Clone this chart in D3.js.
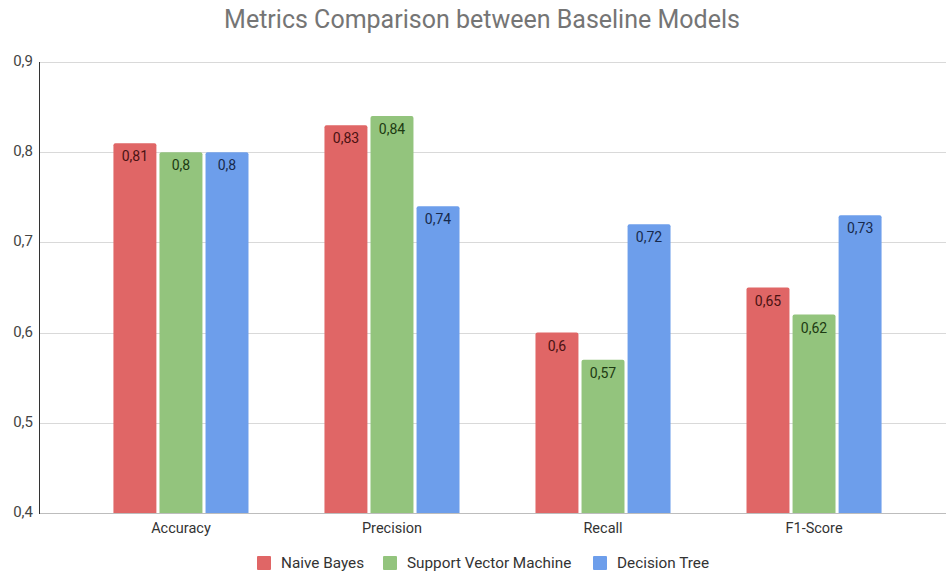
<!DOCTYPE html>
<html lang="en">
<head>
    <meta charset="UTF-8">
    <title>Metrics Comparison between Baseline Models</title>
    <script src="https://d3js.org/d3.v7.min.js"></script>
    <style>
        body { margin: 0; background: #fff; font-family: Roboto, Arial, sans-serif; }
        svg { display: block; }
    </style>
</head>
<body>
    <svg width="946" height="576"></svg>
    <script>
        // data
        const metrics = ["Accuracy", "Precision", "Recall", "F1-Score"];
        const models = ["Naive Bayes", "Support Vector Machine", "Decision Tree"];
        const naiveBayes = [0.81, 0.83, 0.60, 0.65];
        const svm = [0.80, 0.84, 0.57, 0.62];
        const decisionTree = [0.80, 0.74, 0.72, 0.73];
        const yTicks = [0.4, 0.5, 0.6, 0.7, 0.8, 0.9];

        const series = [naiveBayes, svm, decisionTree];
        const colors = ["#e06666", "#93c47d", "#6d9eeb"];
        const labelColors = ["#4a1212", "#1d3a12", "#172a4d"];

        const svg = d3.select("svg");
        const W = 946, H = 576;
        const fmt = v => String(+v.toFixed(2)).replace(".", ",");

        // scales
        const x = d3.scaleBand()
            .domain(metrics)
            .range([40, 955])
            .paddingInner(0.36)
            .paddingOuter(0.348);
        const xi = d3.scaleBand()
            .domain(models)
            .range([0, x.bandwidth()])
            .paddingInner(0.067);
        const y = d3.scaleLinear()
            .domain([0.4, 0.9])
            .range([513, 62]);

        // title
        svg.append("text")
            .attr("x", 482)
            .attr("y", 28)
            .attr("text-anchor", "middle")
            .attr("fill", "#757575")
            .style("font-size", "25px")
            .text("Metrics Comparison between Baseline Models");

        // gridlines
        svg.append("g")
            .selectAll("line")
            .data(yTicks)
            .join("line")
            .attr("x1", 40).attr("x2", W)
            .attr("y1", d => Math.round(y(d)) + 0.5)
            .attr("y2", d => Math.round(y(d)) + 0.5)
            .attr("stroke", d => d === 0.4 ? "#bdbdbd" : "#d9d9d9")
            .attr("stroke-width", 1);

        // y axis labels
        svg.append("g")
            .selectAll("text")
            .data(yTicks)
            .join("text")
            .attr("x", 33)
            .attr("y", d => y(d) + 4)
            .attr("text-anchor", "end")
            .attr("fill", "#444")
            .style("font-size", "15px")
            .text(d => fmt(d));

        // bars
        const groups = svg.append("g")
            .selectAll("g")
            .data(metrics)
            .join("g")
            .attr("transform", d => `translate(${x(d)},0)`);

        groups.selectAll("path")
            .data((m, i) => models.map((name, k) => ({ name, k, v: series[k][i] })))
            .join("path")
            .attr("fill", d => colors[d.k])
            .attr("d", d => {
                const x0 = xi(d.name), w = xi.bandwidth();
                const top = y(d.v), bot = y(0.4), r = 2;
                return `M${x0},${bot}V${top + r}Q${x0},${top} ${x0 + r},${top}` +
                    `H${x0 + w - r}Q${x0 + w},${top} ${x0 + w},${top + r}V${bot}Z`;
            });

        groups.selectAll("text")
            .data((m, i) => models.map((name, k) => ({ name, k, v: series[k][i] })))
            .join("text")
            .attr("x", d => xi(d.name) + xi.bandwidth() / 2)
            .attr("y", d => y(d.v) + 18)
            .attr("text-anchor", "middle")
            .attr("fill", d => labelColors[d.k])
            .style("font-size", "14px")
            .text(d => fmt(d.v));

        // left axis line
        svg.append("line")
            .attr("x1", 39.5).attr("x2", 39.5)
            .attr("y1", 62).attr("y2", 514)
            .attr("stroke", "#333")
            .attr("stroke-width", 1);

        // x labels
        svg.append("g")
            .selectAll("text")
            .data(metrics)
            .join("text")
            .attr("x", d => x(d) + x.bandwidth() / 2)
            .attr("y", 533)
            .attr("text-anchor", "middle")
            .attr("fill", "#333")
            .style("font-size", "14.5px")
            .text(d => d);

        // legend
        const legendX = [257, 383, 593];
        const legend = svg.append("g")
            .selectAll("g")
            .data(models)
            .join("g")
            .attr("transform", (d, i) => `translate(${legendX[i]},556)`);
        legend.append("rect")
            .attr("width", 14).attr("height", 14)
            .attr("rx", 1)
            .attr("fill", (d, i) => colors[i]);
        legend.append("text")
            .attr("x", 24)
            .attr("y", 12)
            .attr("fill", "#333")
            .style("font-size", "15.3px")
            .text(d => d);
    </script>
</body>
</html>
